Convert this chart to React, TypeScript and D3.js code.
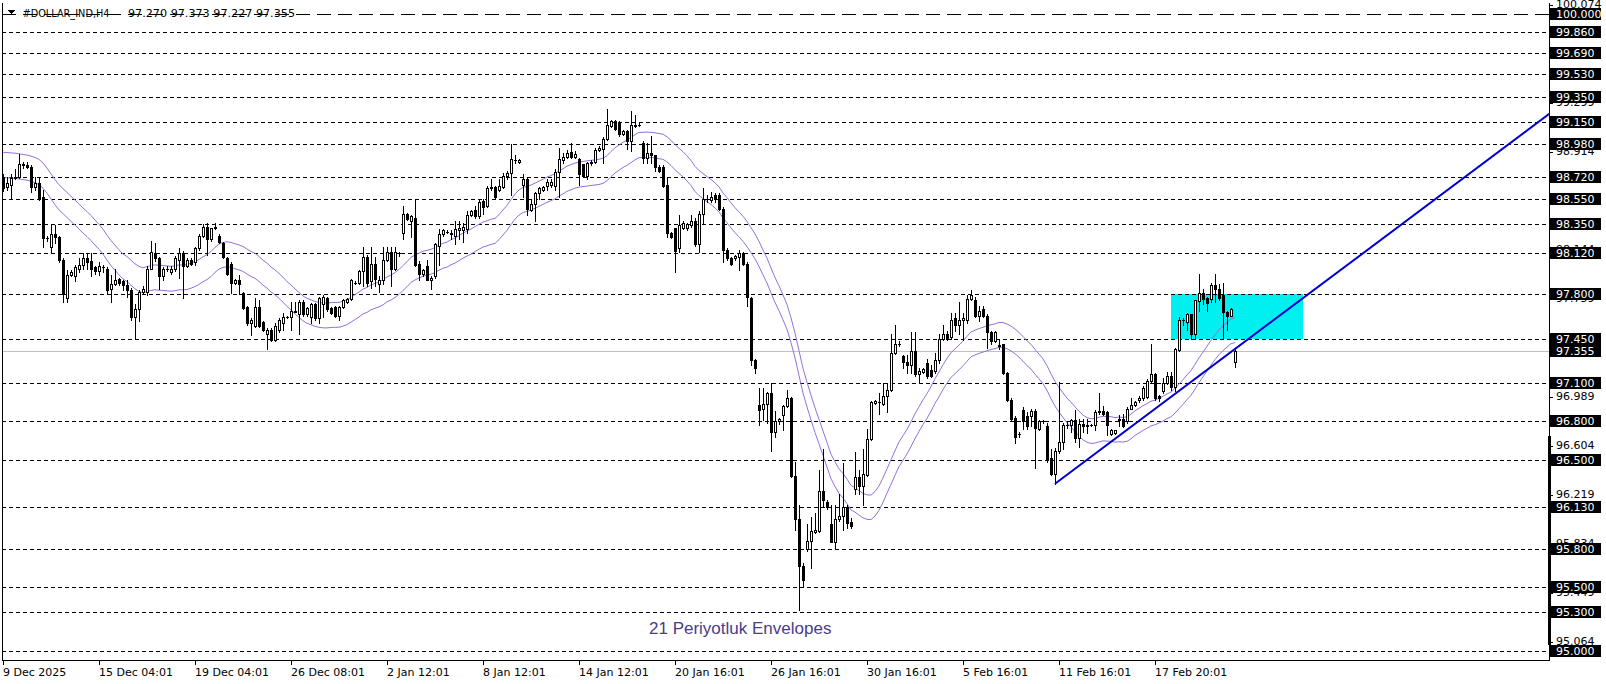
import React from "react";
import * as d3 from "d3";

type Bar = [number, number, number, number]; // open, high, low, close

// ---- H4 candles ----
const barsDecember: Bar[] = [
  // 0-9
  [98.72, 98.74, 98.61, 98.63], [98.64, 98.72, 98.62, 98.67], [98.66, 98.74, 98.55, 98.71], [98.71, 98.78, 98.70, 98.72], [98.72, 98.90, 98.71, 98.82],
  [98.82, 98.84, 98.79, 98.81], [98.81, 98.84, 98.79, 98.80], [98.80, 98.81, 98.60, 98.64], [98.64, 98.72, 98.62, 98.67], [98.67, 98.72, 98.54, 98.55],
  // 10-19
  [98.56, 98.62, 98.17, 98.24], [98.24, 98.26, 98.22, 98.24], [98.17, 98.35, 98.12, 98.27], [98.27, 98.34, 98.20, 98.25], [98.25, 98.26, 98.05, 98.07],
  [98.07, 98.08, 97.74, 97.80], [97.77, 97.99, 97.74, 97.95], [97.95, 97.99, 97.94, 97.97], [97.94, 98.03, 97.90, 98.01], [98.00, 98.08, 97.97, 98.03],
  // 20-29
  [98.03, 98.12, 98.00, 98.08], [98.08, 98.12, 98.00, 98.05], [98.06, 98.12, 97.94, 98.00], [98.01, 98.02, 97.96, 97.98], [97.98, 98.05, 97.95, 98.02],
  [98.01, 98.03, 97.97, 98.01], [98.00, 98.01, 97.81, 97.83], [97.84, 97.95, 97.74, 97.88], [97.88, 98.00, 97.87, 97.91], [97.92, 97.93, 97.87, 97.89],
  // 30-39
  [97.90, 97.91, 97.83, 97.87], [97.87, 97.91, 97.78, 97.83], [97.83, 97.85, 97.60, 97.62], [97.62, 97.72, 97.45, 97.68], [97.68, 97.83, 97.59, 97.82],
  [97.82, 97.86, 97.80, 97.84], [97.82, 98.02, 97.79, 98.00], [98.00, 98.22, 98.00, 98.13], [98.12, 98.20, 98.06, 98.08], [98.08, 98.09, 97.84, 97.94],
  // 40-49
  [97.94, 98.01, 97.91, 98.00], [98.00, 98.02, 97.98, 98.00], [97.97, 98.02, 97.96, 98.00], [98.00, 98.10, 97.98, 98.08], [98.07, 98.16, 97.93, 98.12],
  [98.12, 98.14, 97.77, 98.02], [98.02, 98.08, 98.01, 98.07], [98.07, 98.08, 98.03, 98.04], [98.05, 98.17, 98.03, 98.16], [98.16, 98.27, 98.15, 98.26],
  // 50-59
  [98.26, 98.35, 98.25, 98.33], [98.33, 98.36, 98.11, 98.23], [98.23, 98.32, 98.22, 98.32], [98.32, 98.36, 98.31, 98.33], [98.26, 98.27, 98.20, 98.21],
  [98.20, 98.21, 98.08, 98.09], [98.08, 98.09, 97.95, 97.96], [98.04, 98.05, 97.81, 97.89], [97.89, 97.92, 97.88, 97.91], [97.91, 97.95, 97.80, 97.88],
  // 60-69
  [97.81, 97.82, 97.68, 97.69], [97.70, 97.71, 97.56, 97.575], [97.57, 97.61, 97.48, 97.60], [97.55, 97.77, 97.54, 97.70], [97.70, 97.75, 97.54, 97.55],
  [97.58, 97.59, 97.51, 97.52], [97.49, 97.53, 97.37, 97.52], [97.52, 97.53, 97.43, 97.44], [97.44, 97.57, 97.43, 97.55], [97.52, 97.61, 97.50, 97.60],
  // 70-79
  [97.575, 97.65, 97.52, 97.62], [97.62, 97.63, 97.61, 97.62], [97.62, 97.74, 97.52, 97.67], [97.66, 97.74, 97.66, 97.67], [97.64, 97.75, 97.49, 97.74],
  [97.74, 97.75, 97.63, 97.64], [97.64, 97.70, 97.63, 97.69], [97.62, 97.73, 97.575, 97.72], [97.72, 97.73, 97.60, 97.61], [97.61, 97.78, 97.57, 97.77],
  // 80-89
  [97.72, 97.79, 97.62, 97.78], [97.77, 97.78, 97.67, 97.68], [97.69, 97.70, 97.64, 97.65], [97.70, 97.71, 97.62, 97.63], [97.63, 97.71, 97.60, 97.70],
  [97.70, 97.76, 97.69, 97.75], [97.74, 97.77, 97.73, 97.76], [97.76, 97.92, 97.75, 97.91], [97.89, 97.90, 97.88, 97.89], [97.89, 97.99, 97.88, 97.98],
  // 90-99
  [97.98, 98.17, 97.86, 98.09], [98.09, 98.11, 97.86, 97.89], [97.90, 98.17, 97.85, 98.04], [98.04, 98.09, 97.86, 97.92], [97.88, 97.94, 97.82, 97.91],
  [97.91, 98.17, 97.88, 98.07], [98.07, 98.17, 98.06, 98.13], [98.13, 98.17, 97.86, 98.00], [98.00, 98.17, 97.99, 98.13], [98.12, 98.13, 98.10, 98.12],
];

const barsJanuary: Bar[] = [
  // 100-109
  [98.28, 98.49, 98.23, 98.43], [98.43, 98.44, 98.38, 98.39], [98.37, 98.42, 98.25, 98.41], [98.40, 98.55, 98.02, 98.03], [98.04, 98.06, 97.91, 97.96],
  [97.96, 98.00, 97.94, 97.99], [98.02, 98.07, 97.91, 97.91], [97.91, 97.94, 97.84, 97.93], [97.94, 98.20, 97.93, 98.19], [98.18, 98.31, 98.03, 98.27],
  // 110-119
  [98.27, 98.31, 98.26, 98.30], [98.29, 98.30, 98.28, 98.29], [98.27, 98.30, 98.23, 98.28], [98.26, 98.37, 98.19, 98.31], [98.30, 98.37, 98.23, 98.32],
  [98.30, 98.36, 98.21, 98.33], [98.31, 98.45, 98.28, 98.42], [98.42, 98.46, 98.41, 98.45], [98.46, 98.49, 98.40, 98.41], [98.41, 98.55, 98.40, 98.52],
  // 120-129
  [98.53, 98.55, 98.43, 98.48], [98.49, 98.65, 98.48, 98.63], [98.63, 98.70, 98.62, 98.64], [98.64, 98.65, 98.55, 98.56], [98.62, 98.70, 98.61, 98.65],
  [98.64, 98.75, 98.63, 98.73], [98.73, 98.77, 98.70, 98.75], [98.75, 98.98, 98.58, 98.86], [98.85, 98.89, 98.83, 98.85], [98.84, 98.86, 98.83, 98.85],
  // 130-139
  [98.66, 98.74, 98.56, 98.70], [98.70, 98.71, 98.42, 98.47], [98.46, 98.55, 98.45, 98.51], [98.51, 98.60, 98.37, 98.59], [98.59, 98.64, 98.55, 98.63],
  [98.62, 98.645, 98.61, 98.64], [98.65, 98.70, 98.62, 98.68], [98.66, 98.70, 98.64, 98.68], [98.645, 98.78, 98.62, 98.76], [98.76, 98.95, 98.56, 98.86],
  // 140-149
  [98.85, 98.91, 98.83, 98.88], [98.88, 98.93, 98.87, 98.91], [98.915, 98.99, 98.87, 98.88], [98.88, 98.92, 98.87, 98.90], [98.86, 98.865, 98.66, 98.74],
  [98.82, 98.82, 98.72, 98.73], [98.73, 98.84, 98.70, 98.83], [98.83, 98.85, 98.81, 98.84], [98.84, 98.95, 98.83, 98.93], [98.93, 98.96, 98.92, 98.95],
  // 150-159
  [98.94, 99.03, 98.83, 99.02], [99.02, 99.25, 99.01, 99.13], [99.12, 99.165, 99.11, 99.16], [99.16, 99.165, 99.09, 99.10], [99.155, 99.16, 99.04, 99.06],
  [99.06, 99.09, 99.05, 99.08], [99.08, 99.085, 98.94, 99.00], [99.00, 99.24, 98.92, 99.13], [99.12, 99.21, 99.11, 99.13], [99.13, 99.14, 99.12, 99.13],
  // 160-169
  [98.99, 99.00, 98.83, 98.87], [98.87, 98.99, 98.83, 98.91], [98.91, 99.04, 98.83, 98.89], [98.89, 98.895, 98.77, 98.80], [98.80, 98.81, 98.76, 98.77],
  [98.80, 98.81, 98.64, 98.65], [98.66, 98.72, 98.25, 98.28], [98.28, 98.29, 98.24, 98.25], [98.32, 98.32, 97.97, 98.14], [98.16, 98.42, 98.13, 98.34],
  // 170-179
  [98.32, 98.37, 98.31, 98.36], [98.32, 98.36, 98.30, 98.35], [98.34, 98.42, 98.33, 98.37], [98.37, 98.40, 98.18, 98.19], [98.19, 98.45, 98.13, 98.43],
  [98.43, 98.63, 98.36, 98.55], [98.55, 98.58, 98.52, 98.55], [98.54, 98.60, 98.52, 98.56], [98.58, 98.59, 98.52, 98.55], [98.58, 98.59, 98.46, 98.47],
  // 180-189
  [98.47, 98.48, 98.05, 98.15], [98.15, 98.16, 98.07, 98.08], [98.08, 98.09, 98.03, 98.04], [98.08, 98.11, 98.07, 98.10], [98.09, 98.15, 97.99, 98.12],
  [98.12, 98.13, 98.03, 98.04], [98.04, 98.05, 97.71, 97.78], [97.77, 97.78, 97.24, 97.28], [97.28, 97.29, 97.18, 97.22], [96.93, 97.06, 96.77, 96.89],
  // 190-199
  [96.90, 97.06, 96.81, 96.935], [96.935, 97.03, 96.79, 97.02], [97.02, 97.10, 96.57, 96.72], [96.72, 96.88, 96.68, 96.80], [96.80, 96.83, 96.78, 96.82],
  [96.85, 96.93, 96.73, 96.92], [96.92, 97.05, 96.91, 96.98], [96.98, 96.99, 96.36, 96.37], [96.37, 96.48, 95.95, 96.03], [96.03, 96.14, 95.32, 95.66],
];

const barsFebruary: Bar[] = [
  // 200-209
  [95.66, 95.69, 95.50, 95.55], [95.80, 95.99, 95.78, 95.86], [95.86, 96.05, 95.65, 95.94], [95.93, 96.08, 95.92, 95.95], [95.94, 96.42, 95.93, 96.25],
  [96.25, 96.58, 96.13, 96.18], [96.17, 96.18, 96.11, 96.13], [95.99, 96.14, 95.85, 95.85], [95.85, 96.14, 95.80, 96.03], [96.03, 96.23, 96.02, 96.06],
  // 210-219
  [96.06, 96.47, 95.95, 96.13], [96.13, 96.14, 95.96, 96.00], [96.01, 96.04, 95.96, 95.98], [96.27, 96.56, 96.23, 96.36], [96.36, 96.42, 96.23, 96.29],
  [96.29, 96.58, 96.14, 96.39], [96.38, 96.74, 96.37, 96.66], [96.66, 96.96, 96.65, 96.95], [96.945, 96.97, 96.94, 96.96], [96.95, 97.02, 96.86, 96.95],
  // 220-229
  [96.94, 97.10, 96.93, 97.00], [97.00, 97.10, 96.87, 97.05], [97.05, 97.49, 97.04, 97.34], [97.34, 97.56, 97.33, 97.41], [97.41, 97.43, 97.39, 97.41],
  [97.31, 97.32, 97.22, 97.27], [97.27, 97.32, 97.18, 97.24], [97.24, 97.50, 97.18, 97.355], [97.355, 97.50, 97.16, 97.17], [97.17, 97.22, 97.10, 97.195],
  // 230-239
  [97.19, 97.22, 97.18, 97.21], [97.26, 97.29, 97.14, 97.155], [97.20, 97.24, 97.15, 97.16], [97.195, 97.34, 97.18, 97.28], [97.28, 97.49, 97.26, 97.45],
  [97.45, 97.56, 97.44, 97.49], [97.49, 97.51, 97.44, 97.45], [97.46, 97.65, 97.45, 97.60], [97.61, 97.65, 97.51, 97.56], [97.56, 97.74, 97.49, 97.60],
  // 240-249
  [97.60, 97.65, 97.44, 97.61], [97.60, 97.79, 97.57, 97.76], [97.76, 97.83, 97.755, 97.79], [97.75, 97.78, 97.62, 97.63], [97.63, 97.71, 97.59, 97.67],
  [97.68, 97.71, 97.62, 97.63], [97.63, 97.64, 97.38, 97.50], [97.50, 97.51, 97.41, 97.43], [97.43, 97.51, 97.42, 97.50], [97.39, 97.44, 97.37, 97.40],
  // 250-259
  [97.41, 97.41, 97.17, 97.18], [97.18, 97.19, 96.96, 96.97], [96.97, 96.98, 96.81, 96.82], [96.83, 96.84, 96.63, 96.68], [96.70, 96.72, 96.68, 96.70],
  [96.89, 96.91, 96.74, 96.80], [96.84, 96.87, 96.74, 96.76], [96.84, 96.90, 96.76, 96.88], [96.88, 96.90, 96.43, 96.75], [96.74, 96.81, 96.73, 96.80],
  // 260-269
  [96.80, 96.81, 96.79, 96.80], [96.76, 96.79, 96.48, 96.50], [96.51, 96.58, 96.38, 96.39], [96.39, 96.59, 96.31, 96.57], [96.57, 97.11, 96.55, 96.64],
  [96.64, 96.79, 96.58, 96.77], [96.77, 96.80, 96.75, 96.77], [96.77, 96.82, 96.72, 96.81], [96.81, 96.89, 96.64, 96.67], [96.67, 96.82, 96.60, 96.78],
  // 270-279
  [96.78, 96.82, 96.72, 96.76], [96.76, 96.82, 96.71, 96.77], [96.77, 96.78, 96.76, 96.77], [96.77, 96.89, 96.73, 96.875], [96.875, 97.02, 96.86, 96.88],
  [96.885, 96.92, 96.85, 96.86], [96.875, 96.88, 96.69, 96.77], [96.70, 96.74, 96.69, 96.73], [96.71, 96.735, 96.70, 96.73], [96.81, 96.85, 96.76, 96.82],
  // 280-289
  [96.82, 96.86, 96.755, 96.76], [96.80, 96.91, 96.79, 96.90], [96.90, 96.98, 96.895, 96.93], [96.93, 96.96, 96.92, 96.95], [96.97, 97.00, 96.95, 96.98],
  [96.98, 97.08, 96.97, 97.06], [96.99, 97.13, 96.98, 97.12], [97.12, 97.41, 97.10, 97.17], [97.17, 97.18, 96.97, 96.98], [97.00, 97.01, 96.96, 96.98],
  // 290-299
  [97.04, 97.14, 97.02, 97.10], [97.10, 97.19, 97.09, 97.16], [97.16, 97.19, 97.05, 97.07], [97.07, 97.38, 97.04, 97.37], [97.36, 97.62, 97.355, 97.60],
  [97.60, 97.615, 97.56, 97.60], [97.58, 97.65, 97.52, 97.64], [97.64, 97.645, 97.45, 97.49], [97.49, 97.755, 97.45, 97.75], [97.745, 97.96, 97.67, 97.81],
  // 300-308
  [97.81, 97.84, 97.72, 97.76], [97.77, 97.78, 97.67, 97.73], [97.76, 97.885, 97.74, 97.87], [97.87, 97.96, 97.74, 97.84], [97.84, 97.88, 97.755, 97.77],
  [97.79, 97.885, 97.45, 97.66], [97.66, 97.67, 97.52, 97.63], [97.63, 97.69, 97.625, 97.68], [97.27, 97.373, 97.227, 97.355],
];

// Envelope middle line for the first 20 bars (its window starts before the visible data)
const envelopeHeadMA = [
  98.815, 98.813, 98.81, 98.808, 98.803, 98.798, 98.793, 98.785, 98.774, 98.759,
  98.73, 98.691, 98.646, 98.6, 98.56, 98.53, 98.5, 98.47, 98.44, 98.41,
];
const ENV_PERIOD = 21;
const ENV_DEVIATION = 0.001;

// Time axis
const tickBars = [0, 24, 48, 72, 96, 120, 144, 168, 192, 216, 240, 264, 288];
const tickLabels = [
  "9 Dec 2025", "15 Dec 04:01", "19 Dec 04:01", "26 Dec 08:01", "2 Jan 12:01", "8 Jan 12:01",
  "14 Jan 12:01", "20 Jan 16:01", "26 Jan 16:01", "30 Jan 16:01", "5 Feb 16:01", "11 Feb 16:01", "17 Feb 20:01",
];

// Price axis
const axisPrices = [100.074, 99.299, 98.914, 98.529, 98.144, 97.759, 97.374, 96.989, 96.604, 96.219, 95.834, 95.449, 95.064];
const levelPrices = [
  100.0, 99.86, 99.69, 99.53, 99.35, 99.15, 98.98, 98.72, 98.55, 98.35, 98.12, 97.8, 97.45, 97.1, 96.8, 96.5, 96.13, 95.8, 95.5, 95.3, 95.0,
];
const bidPrice = 97.355;

// Objects
const trendBars = [263, 300];
const trendPrices = [96.31, 97.18];
const zoneBars = [292, 325];
const zonePrices = [97.45, 97.8];

const symbolName = "#DOLLAR_IND,H4";

export default function App() {
  const bars: Bar[] = [...barsDecember, ...barsJanuary, ...barsFebruary];
  const n = bars.length;
  const W = 1606;
  const H = 684;
  const left = 2;
  const right = 1549;
  const top = 3;
  const bottom = 660;

  const x = d3.scaleLinear().domain([0, n - 1]).range([3, 3 + 4 * (n - 1)]);
  const y = d3.scaleLinear().domain([95, 100]).range([650.5, 14]);

  const closes = bars.map((b) => b[3]);
  const ma = closes.map((_, i) =>
    i < ENV_PERIOD - 1 ? envelopeHeadMA[i] : (d3.mean(closes.slice(i - ENV_PERIOD + 1, i + 1)) as number)
  );
  const line = d3
    .line<number>()
    .x((_, i) => x(i))
    .y((d) => y(d));
  const upperPath = line(ma.map((m) => m * (1 + ENV_DEVIATION))) || "";
  const lowerPath = line(ma.map((m) => m * (1 - ENV_DEVIATION))) || "";

  // trend ray
  const tx1 = x(trendBars[0]);
  const ty1 = y(trendPrices[0]);
  const tx2 = x(trendBars[1]);
  const ty2 = y(trendPrices[1]);
  const slope = (ty2 - ty1) / (tx2 - tx1);
  const txEnd = right + 50;
  const tyEnd = ty1 + slope * (txEnd - tx1);

  const font = "'DejaVu Sans', Tahoma, sans-serif";
  const last = bars[n - 1];
  const fmt = d3.format(".3f");

  const py = (p: number) => Math.round(y(p));

  return (
    <div style={{ position: "fixed", left: 0, top: 0, width: W, height: H, background: "#fff" }}>
      <svg width={W} height={H} style={{ display: "block" }} shapeRendering="crispEdges">
        <defs>
          <clipPath id="plot">
            <rect x={left} y={top} width={right - left} height={bottom - top} />
          </clipPath>
        </defs>
        <rect x={0} y={0} width={W} height={H} fill="#fff" />

        <g clipPath="url(#plot)">
          {/* zone rectangle */}
          <rect
            x={x(zoneBars[0])}
            y={py(zonePrices[1])}
            width={x(zoneBars[1]) - x(zoneBars[0])}
            height={py(zonePrices[0]) - py(zonePrices[1])}
            fill="#00F0F0"
          />
          {/* horizontal level lines */}
          {levelPrices.map((p, i) => (
            <line
              key={"lv" + i}
              x1={left}
              x2={right}
              y1={py(p) + 0.5}
              y2={py(p) + 0.5}
              stroke="#000"
              strokeWidth={1}
              strokeDasharray={p === 100 ? "14,7" : "4,3"}
            />
          ))}
          {/* bid line */}
          <line x1={left} x2={right} y1={py(bidPrice) + 0.5} y2={py(bidPrice) + 0.5} stroke="#C0C0C0" />

          {/* envelopes */}
          <path d={upperPath} fill="none" stroke="#9370DB" strokeWidth={1} shapeRendering="auto" />
          <path d={lowerPath} fill="none" stroke="#9370DB" strokeWidth={1} shapeRendering="auto" />

          {/* candles */}
          {bars.map((b, i) => {
            const [o, h, l, c] = b;
            const cx = Math.round(x(i));
            const yh = py(h);
            const yl = py(l);
            const yo = py(o);
            const yc = py(c);
            let body: React.ReactNode;
            if (yo === yc) {
              body = <rect x={cx - 1} y={yo} width={3} height={1} fill="#000" />;
            } else if (c < o) {
              body = <rect x={cx - 1} y={yo} width={3} height={yc - yo + 1} fill="#000" />;
            } else {
              body = (
                <rect x={cx - 0.5} y={yc + 0.5} width={2} height={yo - yc} fill="#fff" stroke="#000" strokeWidth={1} />
              );
            }
            return (
              <g key={"c" + i}>
                <line x1={cx + 0.5} x2={cx + 0.5} y1={yh} y2={yl + 1} stroke="#000" />
                {body}
              </g>
            );
          })}

          {/* trend line */}
          <line
            x1={tx1}
            y1={ty1}
            x2={txEnd}
            y2={tyEnd}
            stroke="#0000CD"
            strokeWidth={2}
            shapeRendering="auto"
          />

          {/* label */}
          <text x={649} y={634} fontFamily="'Liberation Sans', Arial, sans-serif" fontSize={17} fill="#483D8B">
            21 Periyotluk Envelopes
          </text>

          {/* header */}
          <polygon points="7,10 15,10 11,14" fill="#000" />
          <text x={22.5} y={16.5} fontFamily={font} fontSize={11} fill="#000" textLength={87} lengthAdjust="spacingAndGlyphs">
            {symbolName}
          </text>
          <text x={128} y={16.5} fontFamily={font} fontSize={11} fill="#000" textLength={167} lengthAdjust="spacingAndGlyphs">
            {[last[0], last[1], last[2], last[3]].map((v) => fmt(v)).join(" ")}
          </text>
        </g>

        {/* frame */}
        <line x1={left + 0.5} x2={left + 0.5} y1={top} y2={bottom + 1} stroke="#000" />
        <line x1={right + 0.5} x2={right + 0.5} y1={top} y2={bottom + 1} stroke="#000" />
        <line x1={left} x2={right + 1} y1={bottom + 0.5} y2={bottom + 0.5} stroke="#000" />
        <rect x={1548} y={436} width={3} height={209} fill="#000" />

        {/* time axis */}
        {tickBars.map((bi, i) => {
          const tx = Math.round(x(bi));
          return (
            <g key={"t" + i}>
              <line x1={tx + 0.5} x2={tx + 0.5} y1={bottom + 1} y2={bottom + 5} stroke="#000" />
              <text x={tx} y={676} fontFamily={font} fontSize={11} fill="#000">
                {tickLabels[i]}
              </text>
            </g>
          );
        })}

        {/* price axis */}
        {axisPrices.map((p, i) => (
          <g key={"a" + i}>
            <line x1={right + 1} x2={right + 4} y1={py(p) + 0.5} y2={py(p) + 0.5} stroke="#000" />
            <text x={1556} y={py(p) + 3} fontFamily={font} fontSize={11} fill="#000">
              {fmt(p)}
            </text>
          </g>
        ))}
        {[...levelPrices, bidPrice].map((p, i) => (
          <g key={"b" + i}>
            <rect x={1550} y={py(p) - 6} width={51} height={12} fill="#000" />
            <text x={1556} y={py(p) + 4} fontFamily={font} fontSize={11} fill="#fff">
              {fmt(p)}
            </text>
          </g>
        ))}
      </svg>
    </div>
  );
}
